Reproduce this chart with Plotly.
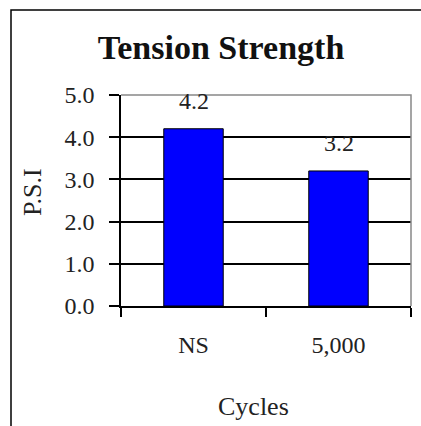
import plotly.graph_objects as go

categories = ["NS", "5,000"]
values = [4.2, 3.2]
value_labels = ["4.2", "3.2"]
y_tickvals = [0, 1, 2, 3, 4, 5]
y_ticktext = ["0.0", "1.0", "2.0", "3.0", "4.0", "5.0"]
title_text = "Tension Strength"
x_title = "Cycles"
y_title = "P.S.I"

W, H = 421, 426
L, R, T, B = 121, 10, 95, 120
pw = W - L - R
ph = H - T - B

def px(x):
    return (x - L) / pw

def py(y):
    return (H - B - y) / ph

FONT = "Liberation Serif, Times New Roman, serif"
TXT = "#222222"

fig = go.Figure()
fig.add_trace(go.Bar(
    x=categories, y=values,
    marker=dict(color="#0000FF", line=dict(color="#000000", width=1)),
    width=0.41,
))

for c, v, t in zip(categories, values, value_labels):
    fig.add_annotation(x=c, y=v, text=t, showarrow=False, yshift=28,
                       xanchor="center", yanchor="middle",
                       font=dict(family=FONT, size=24, color=TXT))

fig.add_annotation(xref="paper", yref="paper", x=px(253), y=py(406), text=x_title,
                   showarrow=False, xanchor="center", yanchor="middle",
                   font=dict(family=FONT, size=26, color=TXT))
fig.add_annotation(xref="paper", yref="paper", x=px(32), y=py(192), text=y_title,
                   showarrow=False, textangle=-90, xanchor="center", yanchor="middle",
                   font=dict(family=FONT, size=26, color=TXT))

# outer frame (top and left)
fig.add_shape(type="path", xref="paper", yref="paper",
              path=f"M {px(11)},{py(H+5)} L {px(11)},{py(10)} L {px(W+5)},{py(10)}",
              line=dict(color="#000000", width=1.5))
# grey plot border top/right
fig.add_shape(type="path", xref="paper", yref="paper",
              path="M 0,1 L 1,1 L 1,0",
              line=dict(color="#888888", width=1.5), layer="above")

fig.update_layout(
    width=W, height=H,
    margin=dict(l=L, r=R, t=T, b=B),
    paper_bgcolor="white", plot_bgcolor="white",
    showlegend=False,
    title=dict(text=f"<b>{title_text}</b>", x=221 / W, xanchor="center",
               y=1 - 47 / H, yanchor="middle", yref="container",
               font=dict(family=FONT, size=34, color="#111111")),
    xaxis=dict(showline=True, linecolor="#000000", linewidth=1.5,
               ticks="outside", ticklen=9, tickcolor="#000000", tickwidth=1.5,
               tickson="boundaries", showgrid=False,
               tickfont=dict(family=FONT, size=24, color=TXT),
               ticklabelstandoff=16),
    yaxis=dict(range=[0, 5], tickvals=y_tickvals, ticktext=y_ticktext,
               showline=True, linecolor="#000000", linewidth=1.5,
               ticks="outside", ticklen=10, tickcolor="#000000", tickwidth=1.5,
               showgrid=True, gridcolor="#000000", gridwidth=1.5, zeroline=False,
               tickfont=dict(family=FONT, size=24, color=TXT),
               ticklabelstandoff=10),
)

fig.write_html("out.html", config={"displayModeBar": False},
               post_script="document.body.style.margin='0';")
